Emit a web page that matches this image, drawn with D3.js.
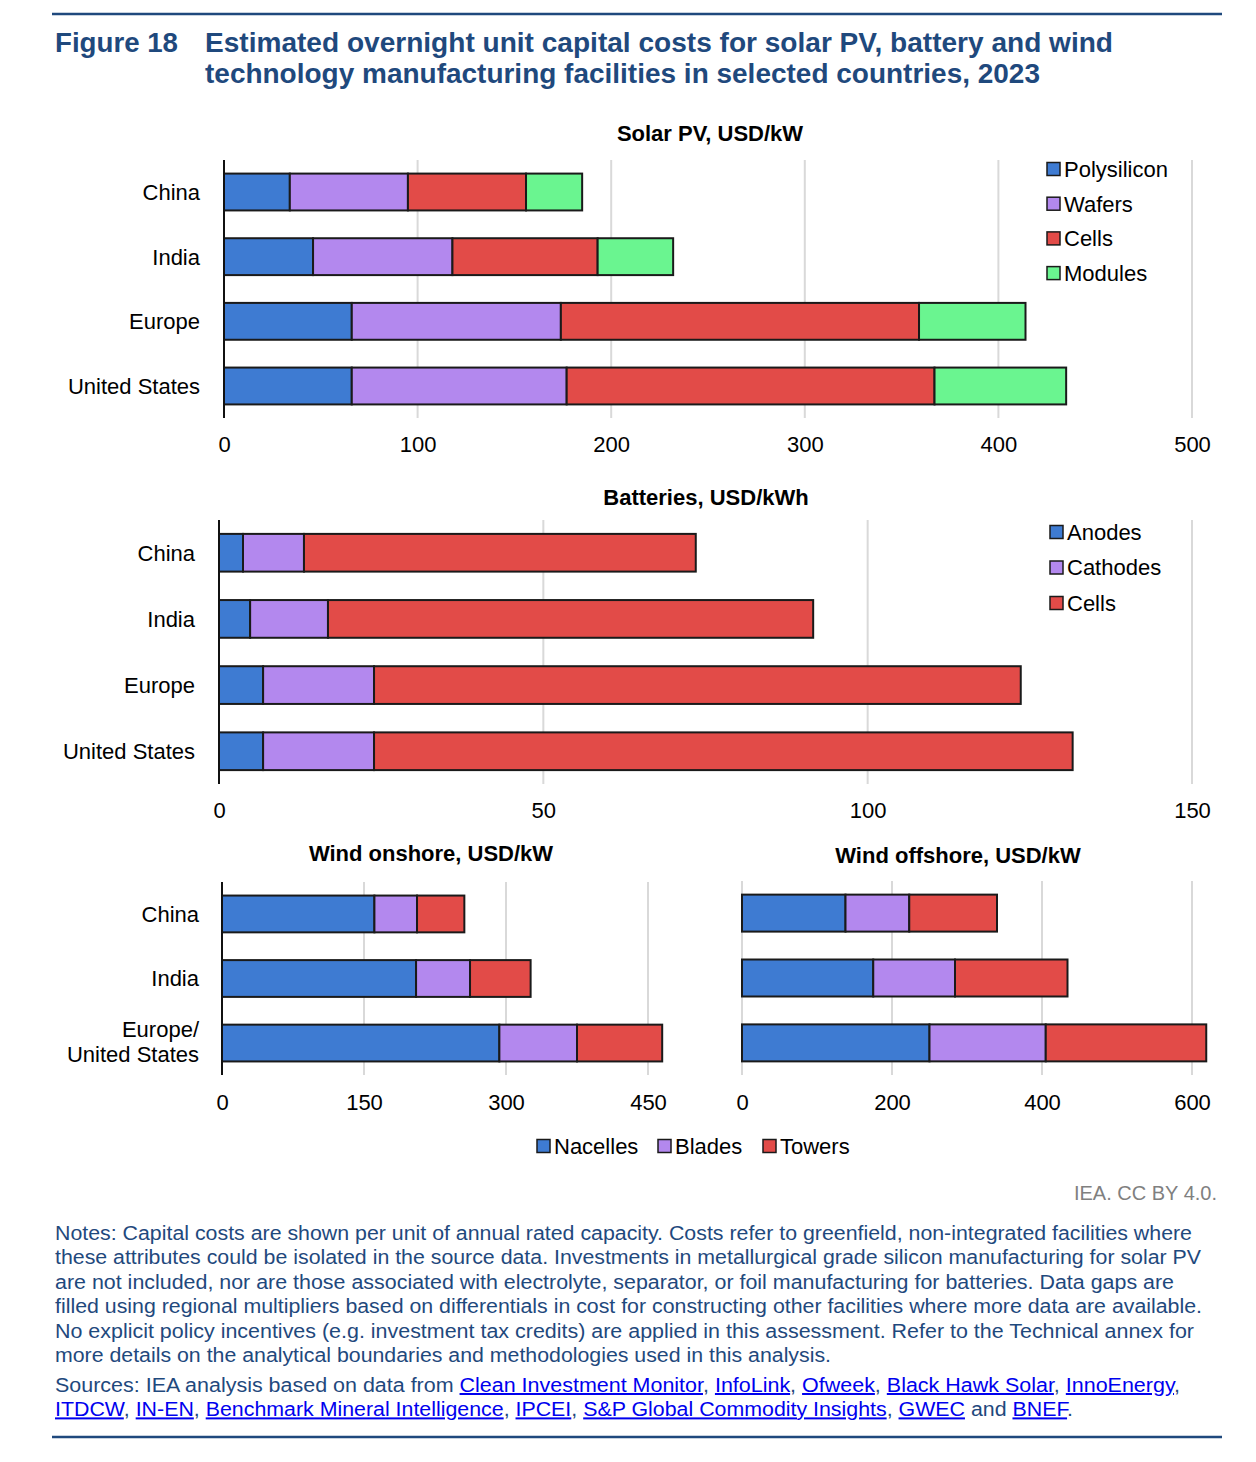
<!DOCTYPE html>
<html>
<head>
<meta charset="utf-8">
<script src="https://cdn.jsdelivr.net/npm/d3@7"></script>
<style>
    body { margin: 0; background: #fff; }
    svg text { font-family: "Liberation Sans", Arial, Helvetica, sans-serif; }
</style>
</head>
<body>
<div id="chart"></div>
<script>
// solar PV, USD/kW
const solarCountries = ['China', 'India', 'Europe', 'United States'];
const solarKeys = ['Polysilicon', 'Wafers', 'Cells', 'Modules'];
const solarPolysilicon = [34, 46, 66, 66];
const solarWafers = [61, 72, 108, 111];
const solarCells = [61, 75, 185, 190];
const solarModules = [29, 39, 55, 68];
const solarTicks = [0, 100, 200, 300, 400, 500];

// batteries, USD/kWh
const batteryCountries = ['China', 'India', 'Europe', 'United States'];
const batteryKeys = ['Anodes', 'Cathodes', 'Cells'];
const batteryAnodes = [3.7, 4.8, 6.8, 6.8];
const batteryCathodes = [9.4, 12, 17.1, 17.1];
const batteryCells = [60.4, 74.8, 99.7, 107.7];
const batteryTicks = [0, 50, 100, 150];

// wind, USD/kW
const windCountries = ['China', 'India', 'Europe/\nUnited States'];
const windKeys = ['Nacelles', 'Blades', 'Towers'];
const onshoreNacelles = [161, 205, 293];
const onshoreBlades = [45, 57, 82];
const onshoreTowers = [50, 64, 90];
const onshoreTicks = [0, 150, 300, 450];
const offshoreNacelles = [138, 175, 250];
const offshoreBlades = [85, 109, 155];
const offshoreTowers = [117, 150, 214];
const offshoreTicks = [0, 200, 400, 600];

const colors = ['#3e7bd2', '#b388ee', '#e24b48', '#6af590'];
const blue = '#1f497d';
const font = '"Liberation Sans", Arial, Helvetica, sans-serif';

const svg = d3.select('#chart')
    .append('svg')
    .attr('width', 1256)
    .attr('height', 1462);

function drawPanel(opt) {
    const g = svg.append('g');

    const x = d3.scaleLinear()
        .domain(opt.domain)
        .range(opt.xRange);

    const y = d3.scaleBand()
        .domain(opt.countries)
        .range(opt.yRange)
        .paddingInner(0.43)
        .paddingOuter(0.21);

    g.append('text')
        .attr('x', opt.titleX)
        .attr('y', opt.titleY)
        .attr('text-anchor', 'middle')
        .attr('font-size', 22)
        .attr('font-weight', 'bold')
        .text(opt.title);

    // grid lines
    g.selectAll('.grid')
        .data(opt.ticks.filter(t => !opt.axisLine || t > 0))
        .enter()
        .append('line')
        .attr('x1', d => x(d))
        .attr('x2', d => x(d))
        .attr('y1', opt.yRange[0])
        .attr('y2', opt.yRange[1])
        .attr('stroke', '#d9d9d9')
        .attr('stroke-width', 2);

    const rows = opt.countries.map((c, i) => {
        const row = {country: c};
        opt.keys.forEach((k, j) => row[k] = opt.series[j][i]);
        return row;
    });
    const stacked = d3.stack().keys(opt.keys)(rows);

    g.selectAll('.layer')
        .data(stacked)
        .enter()
        .append('g')
        .attr('fill', (d, i) => colors[i])
        .selectAll('rect')
        .data(d => d)
        .enter()
        .append('rect')
        .attr('x', d => x(d[0]))
        .attr('width', d => x(d[1]) - x(d[0]))
        .attr('y', d => y(d.data.country))
        .attr('height', y.bandwidth())
        .attr('stroke', '#1a1a1a')
        .attr('stroke-width', 2);

    if (opt.axisLine) {
        g.append('line')
            .attr('x1', x(0))
            .attr('x2', x(0))
            .attr('y1', opt.yRange[0])
            .attr('y2', opt.yRange[1])
            .attr('stroke', '#111')
            .attr('stroke-width', 2);
    }

    const axis = g.append('g')
        .attr('transform', 'translate(0,' + opt.tickY + ')')
        .call(d3.axisBottom(x).tickValues(opt.ticks).tickSize(0).tickPadding(0));
    axis.select('.domain').remove();
    axis.attr('font-size', 22).attr('font-family', font);
    axis.selectAll('text').attr('fill', '#000');

    if (opt.labelX) {
        g.selectAll('.label')
            .data(opt.countries)
            .enter()
            .append('text')
            .attr('x', opt.labelX)
            .attr('y', d => y(d) + y.bandwidth() / 2)
            .attr('text-anchor', 'end')
            .attr('font-size', 22)
            .each(function (d) {
                const lines = d.split('\n');
                const t = d3.select(this);
                lines.forEach((line, i) => {
                    t.append('tspan')
                        .attr('x', opt.labelX)
                        .attr('dy', i === 0 ? (lines.length === 1 ? '0.36em' : '-0.28em') : '1.15em')
                        .text(line);
                });
            });
    }

    if (opt.legend) {
        const items = g.selectAll('.legend')
            .data(opt.keys)
            .enter()
            .append('g')
            .attr('transform', (d, i) => 'translate(' + opt.legend.x + ',' + (opt.legend.y + i * opt.legend.step) + ')');
        items.append('rect')
            .attr('x', 0)
            .attr('y', -6.5)
            .attr('width', 13)
            .attr('height', 13)
            .attr('fill', (d, i) => colors[i])
            .attr('stroke', '#1a1a1a')
            .attr('stroke-width', 1.5);
        items.append('text')
            .attr('x', 17)
            .attr('dy', '0.36em')
            .attr('font-size', 22)
            .text(d => d);
    }
}

// heading
svg.append('line').attr('x1', 52).attr('x2', 1222).attr('y1', 14).attr('y2', 14)
    .attr('stroke', blue).attr('stroke-width', 2.5);

svg.append('text').attr('x', 55).attr('y', 52)
    .attr('font-size', 28).attr('font-weight', 'bold').attr('fill', blue)
    .attr('textLength', 123).attr('lengthAdjust', 'spacingAndGlyphs')
    .text('Figure 18');
svg.append('text').attr('x', 205).attr('y', 52)
    .attr('font-size', 28).attr('font-weight', 'bold').attr('fill', blue)
    .attr('textLength', 908).attr('lengthAdjust', 'spacingAndGlyphs')
    .text('Estimated overnight unit capital costs for solar PV, battery and wind');
svg.append('text').attr('x', 205).attr('y', 83)
    .attr('font-size', 28).attr('font-weight', 'bold').attr('fill', blue)
    .attr('textLength', 835).attr('lengthAdjust', 'spacingAndGlyphs')
    .text('technology manufacturing facilities in selected countries, 2023');

drawPanel({
    title: 'Solar PV, USD/kW', titleX: 710, titleY: 141,
    countries: solarCountries, keys: solarKeys,
    series: [solarPolysilicon, solarWafers, solarCells, solarModules],
    domain: [0, 500], xRange: [224, 1192], yRange: [160, 418],
    ticks: solarTicks, tickY: 436, axisLine: true, labelX: 200,
    legend: {x: 1047, y: 169, step: 34.7}
});

drawPanel({
    title: 'Batteries, USD/kWh', titleX: 706, titleY: 505,
    countries: batteryCountries, keys: batteryKeys,
    series: [batteryAnodes, batteryCathodes, batteryCells],
    domain: [0, 150], xRange: [219, 1192], yRange: [520, 784],
    ticks: batteryTicks, tickY: 802, axisLine: true, labelX: 195,
    legend: {x: 1050, y: 532, step: 35.5}
});

drawPanel({
    title: 'Wind onshore, USD/kW', titleX: 431, titleY: 861,
    countries: windCountries, keys: windKeys,
    series: [onshoreNacelles, onshoreBlades, onshoreTowers],
    domain: [0, 450], xRange: [222, 648], yRange: [882, 1075],
    ticks: onshoreTicks, tickY: 1094, axisLine: true, labelX: 199
});

drawPanel({
    title: 'Wind offshore, USD/kW', titleX: 958, titleY: 863,
    countries: windCountries, keys: windKeys,
    series: [offshoreNacelles, offshoreBlades, offshoreTowers],
    domain: [0, 600], xRange: [742, 1192], yRange: [881, 1075],
    ticks: offshoreTicks, tickY: 1094, axisLine: false, labelX: null
});

// shared wind legend
const windLegendX = [537, 658, 763];
const windLegend = svg.selectAll('.wind-legend')
    .data(windKeys)
    .enter()
    .append('g')
    .attr('transform', (d, i) => 'translate(' + windLegendX[i] + ',1146)');
windLegend.append('rect')
    .attr('y', -6.5).attr('width', 13).attr('height', 13)
    .attr('fill', (d, i) => colors[i])
    .attr('stroke', '#1a1a1a').attr('stroke-width', 1.5);
windLegend.append('text')
    .attr('x', 17).attr('dy', '0.36em').attr('font-size', 22)
    .text(d => d);

svg.append('text').attr('x', 1217).attr('y', 1200)
    .attr('text-anchor', 'end').attr('font-size', 20).attr('fill', '#808080')
    .text('IEA. CC BY 4.0.');

// notes
const notesLines = [
    'Notes: Capital costs are shown per unit of annual rated capacity. Costs refer to greenfield, non-integrated facilities where',
    'these attributes could be isolated in the source data. Investments in metallurgical grade silicon manufacturing for solar PV',
    'are not included, nor are those associated with electrolyte, separator, or foil manufacturing for batteries. Data gaps are',
    'filled using regional multipliers based on differentials in cost for constructing other facilities where more data are available.',
    'No explicit policy incentives (e.g. investment tax credits) are applied in this assessment. Refer to the Technical annex for',
    'more details on the analytical boundaries and methodologies used in this analysis.'
];
const notesWidths = [1137, 1146, 1119, 1147, 1139, 776];

svg.selectAll('.note')
    .data(notesLines)
    .enter()
    .append('text')
    .attr('x', 55)
    .attr('y', (d, i) => 1240 + i * 24.4)
    .attr('font-size', 20)
    .attr('fill', blue)
    .attr('textLength', (d, i) => notesWidths[i])
    .attr('lengthAdjust', 'spacingAndGlyphs')
    .text(d => d);

// sources, [text, isLink]
const sourcesLines = [
    [['Sources: IEA analysis based on data from ', false], ['Clean Investment Monitor', true], [', ', false],
     ['InfoLink', true], [', ', false], ['Ofweek', true], [', ', false], ['Black Hawk Solar', true], [', ', false],
     ['InnoEnergy', true], [',', false]],
    [['ITDCW', true], [', ', false], ['IN-EN', true], [', ', false], ['Benchmark Mineral Intelligence', true], [', ', false],
     ['IPCEI', true], [', ', false], ['S&P Global Commodity Insights', true], [', ', false], ['GWEC', true],
     [' and ', false], ['BNEF', true], ['.', false]]
];
const sourcesWidths = [1125, 1018];

sourcesLines.forEach((parts, i) => {
    const t = svg.append('text')
        .attr('x', 55)
        .attr('y', 1392 + i * 24.4)
        .attr('font-size', 20)
        .attr('fill', blue)
        .attr('textLength', sourcesWidths[i])
        .attr('lengthAdjust', 'spacingAndGlyphs');
    parts.forEach(p => {
        const s = t.append('tspan').text(p[0]);
        if (p[1]) {
            s.attr('fill', '#0000ee').attr('text-decoration', 'underline');
        }
    });
});

svg.append('line').attr('x1', 52).attr('x2', 1222).attr('y1', 1437).attr('y2', 1437)
    .attr('stroke', blue).attr('stroke-width', 2.5);
</script>
</body>
</html>
